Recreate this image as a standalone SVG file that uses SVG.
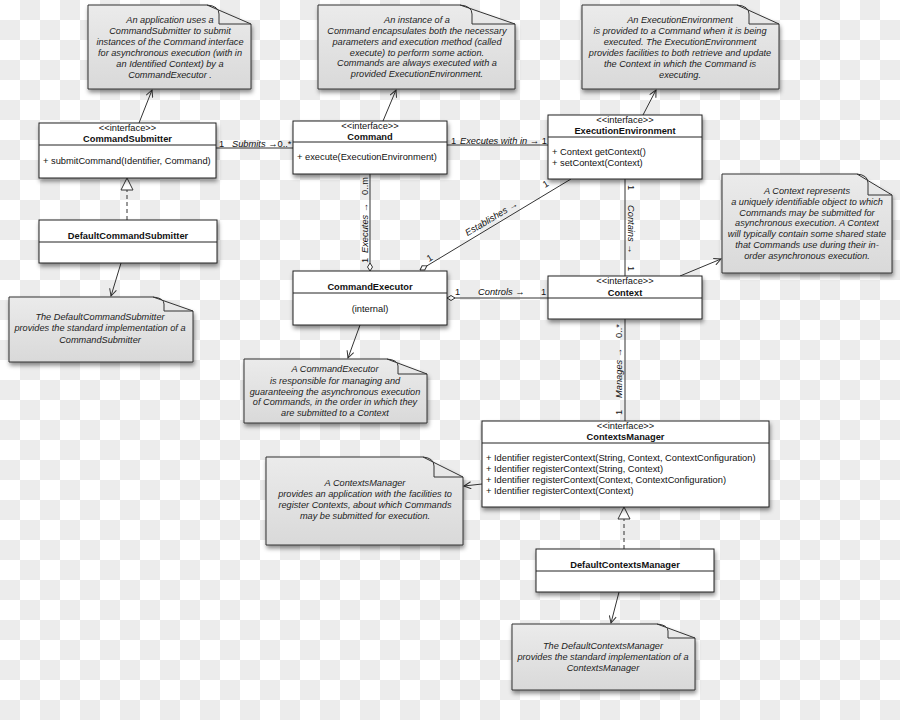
<svg xmlns="http://www.w3.org/2000/svg" width="900" height="720" viewBox="0 0 900 720">
<defs>
<pattern id="chk" x="0" y="0" width="40" height="40" patternUnits="userSpaceOnUse">
<rect width="40" height="40" fill="#ffffff"/>
<rect x="20" y="0" width="20" height="20" fill="#ececec"/>
<rect x="0" y="20" width="20" height="20" fill="#ececec"/>
</pattern>
<linearGradient id="ng" x1="0" y1="0" x2="0" y2="1">
<stop offset="0" stop-color="#ebebeb"/>
<stop offset="1" stop-color="#d9d9d9"/>
</linearGradient>
<filter id="sh" x="-10%" y="-10%" width="125%" height="135%">
<feDropShadow dx="1" dy="3" stdDeviation="2" flood-color="#000" flood-opacity="0.45"/>
</filter>
<marker id="arr" markerWidth="9" markerHeight="8" refX="8" refY="4" orient="auto" markerUnits="userSpaceOnUse">
<path d="M1,0.5 L8,4 L1,7.5" fill="none" stroke="#333" stroke-width="1"/>
</marker>
<marker id="dia" markerWidth="9" markerHeight="7" refX="0.5" refY="3.5" orient="auto" markerUnits="userSpaceOnUse">
<path d="M0.5,3.5 L4.5,1 L8.5,3.5 L4.5,6 Z" fill="#fff" stroke="#333" stroke-width="1"/>
</marker>
<style>
.cls{fill:#fff;stroke:#222;stroke-width:1;filter:url(#sh)}
.div{stroke:#222;stroke-width:1}
.note{fill:url(#ng);stroke:#333;stroke-width:1;filter:url(#sh)}
.fold{fill:none;stroke:#333;stroke-width:1}
.st{font-family:"Liberation Sans",Arial,sans-serif;font-size:9.3px;fill:#111;text-anchor:middle}
.nm{font-family:"Liberation Sans",Arial,sans-serif;font-size:9.3px;font-weight:bold;fill:#111;text-anchor:middle}
.mt{font-family:"Liberation Sans",Arial,sans-serif;font-size:9.3px;fill:#111}
.nt{font-family:"Liberation Sans",Arial,sans-serif;font-size:9.2px;font-style:italic;fill:#222;text-anchor:middle}
.lb{font-family:"Liberation Sans",Arial,sans-serif;font-size:9.3px;fill:#111}
.lbi{font-family:"Liberation Sans",Arial,sans-serif;font-size:9.3px;font-style:italic;fill:#111}
.ln{fill:none;stroke:#333;stroke-width:1}
.ptr{fill:none;stroke:#333;stroke-width:1;marker-end:url(#arr)}
.dash{fill:none;stroke:#333;stroke-width:1;stroke-dasharray:4,3}
.tri{fill:#fff;stroke:#333;stroke-width:1}
</style>
</defs>
<rect x="0" y="0" width="900" height="720" fill="url(#chk)"/>

<g id="connectors">
<line class="ptr" x1="139" y1="123" x2="152" y2="90"/>
<line class="ptr" x1="383" y1="121" x2="396" y2="90"/>
<line class="ptr" x1="643" y1="115" x2="656" y2="90"/>
<line class="ptr" x1="680" y1="276" x2="721" y2="259"/>
<line class="ptr" x1="360" y1="325" x2="348" y2="358"/>
<line class="ptr" x1="482" y1="484" x2="464" y2="486"/>
<line class="ptr" x1="121" y1="263" x2="111" y2="296"/>
<line class="ptr" x1="619" y1="592" x2="611" y2="623"/>

<line class="ln" x1="216" y1="148" x2="293" y2="148"/>
<text class="lb" x="219" y="147">1</text>
<text class="lbi" x="232" y="147">Submits <tspan font-style="normal">→0..*</tspan></text>

<line class="ln" x1="447" y1="145" x2="548" y2="145"/>
<text class="lb" x="451" y="144">1</text>
<text class="lbi" x="460" y="144">Executes with in <tspan font-style="normal">→ 1</tspan></text>

<line class="ln" x1="370" y1="271" x2="370" y2="174" marker-start="url(#dia)"/>
<text class="lb" transform="translate(368,263) rotate(-90)">1</text>
<text class="lbi" transform="translate(368,253) rotate(-90)">Executes <tspan font-style="normal">→</tspan></text>
<text class="lb" transform="translate(368,195) rotate(-90)">0..m</text>

<line class="ln" x1="420" y1="270" x2="571" y2="179" marker-start="url(#dia)"/>
<text class="lb" transform="translate(429,262) rotate(-31)">1</text>
<text class="lbi" text-anchor="middle" transform="translate(493,221) rotate(-31)">Establishes <tspan font-style="normal">→</tspan></text>
<text class="lb" transform="translate(545,188) rotate(-31)">1</text>

<line class="ln" x1="447" y1="298" x2="548" y2="298" marker-start="url(#dia)"/>
<text class="lb" x="455" y="295">1</text>
<text class="lbi" x="478" y="295">Controls <tspan font-style="normal">→</tspan></text>
<text class="lb" x="541" y="295">1</text>

<line class="ln" x1="625" y1="179" x2="625" y2="276"/>
<text class="lb" transform="translate(628,185) rotate(90)">1</text>
<text class="lbi" transform="translate(628,205) rotate(90)">Contains <tspan font-style="normal">→</tspan></text>
<text class="lb" transform="translate(628,266) rotate(90)">1</text>

<line class="ln" x1="625" y1="319" x2="625" y2="421"/>
<text class="lb" transform="translate(622,415) rotate(-90)">1</text>
<text class="lbi" transform="translate(622,398) rotate(-90)">Manages <tspan font-style="normal">→</tspan></text>
<text class="lb" transform="translate(622,338) rotate(-90)">0..*</text>

<line class="dash" x1="127" y1="220" x2="127" y2="190"/>
<polygon class="tri" points="127,178 121,190 133,190"/>
<line class="dash" x1="624" y1="549" x2="624" y2="519"/>
<polygon class="tri" points="624,507 618,519 630,519"/>
</g>

<g id="note-commandsubmitter">
<path class="note" d="M88,5 H207 L251,24 V89 H88 Z"/>
<path class="fold" d="M207,5 Q219,6 219,14 V24 H251"/>
<text class="nt" x="170" y="23">An application uses a</text>
<text class="nt" x="170" y="34">CommandSubmitter to submit</text>
<text class="nt" x="170" y="45">instances of the Command interface</text>
<text class="nt" x="170" y="56">for asynchronous execution (with in</text>
<text class="nt" x="170" y="67">an Identified Context) by a</text>
<text class="nt" x="170" y="78">CommandExecutor .</text>
</g>

<g id="note-command">
<path class="note" d="M318,5 H460 L515,24 V89 H318 Z"/>
<path class="fold" d="M460,5 Q472,6 472,14 V24 H515"/>
<text class="nt" x="417" y="23">An instance of a</text>
<text class="nt" x="417" y="34">Command encapsulates both the necessary</text>
<text class="nt" x="417" y="45">parameters and execution method (called</text>
<text class="nt" x="417" y="56">execute) to perform some action.</text>
<text class="nt" x="417" y="66">Commands are always executed with a</text>
<text class="nt" x="417" y="77">provided ExecutionEnvironment.</text>
</g>

<g id="note-executionenvironment">
<path class="note" d="M582,5 H737 L779,24 V89 H582 Z"/>
<path class="fold" d="M737,5 Q749,6 749,14 V24 H779"/>
<text class="nt" x="680" y="23">An ExecutionEnvironment</text>
<text class="nt" x="680" y="34">is provided to a Command when it is being</text>
<text class="nt" x="680" y="45">executed.  The ExecutionEnvironment</text>
<text class="nt" x="680" y="56">provides facilities to both retrieve and update</text>
<text class="nt" x="680" y="67">the Context in which the Command is</text>
<text class="nt" x="680" y="78">executing.</text>
</g>

<g id="CommandSubmitter">
<rect class="cls" x="39" y="123" width="177" height="55"/>
<line class="div" x1="39" y1="145" x2="216" y2="145"/>
<text class="st" x="127.5" y="131">&lt;&lt;interface&gt;&gt;</text>
<text class="nm" x="127.5" y="142">CommandSubmitter</text>
<text class="mt" x="43" y="164">+ submitCommand(Identifier, Command)</text>
</g>

<g id="Command">
<rect class="cls" x="293" y="121" width="154" height="53"/>
<line class="div" x1="293" y1="142" x2="447" y2="142"/>
<text class="st" x="370" y="128.5">&lt;&lt;interface&gt;&gt;</text>
<text class="nm" x="370" y="139.5">Command</text>
<text class="mt" x="297" y="160">+ execute(ExecutionEnvironment)</text>
</g>

<g id="ExecutionEnvironment">
<rect class="cls" x="548" y="115" width="154" height="64"/>
<line class="div" x1="548" y1="137" x2="702" y2="137"/>
<text class="st" x="625" y="122.5">&lt;&lt;interface&gt;&gt;</text>
<text class="nm" x="625" y="134">ExecutionEnvironment</text>
<text class="mt" x="552" y="155">+ Context getContext()</text>
<text class="mt" x="552" y="166">+ setContext(Context)</text>
</g>

<g id="DefaultCommandSubmitter">
<rect class="cls" x="39" y="220" width="178" height="43"/>
<line class="div" x1="39" y1="242" x2="217" y2="242"/>
<text class="nm" x="128" y="239">DefaultCommandSubmitter</text>
</g>

<g id="note-defaultcommandsubmitter">
<path class="note" d="M9,297 H153 L193,311 V362 H9 Z"/>
<path class="fold" d="M153,297 Q164,298 164,304 V311 H193"/>
<text class="nt" x="100" y="320">The DefaultCommandSubmitter</text>
<text class="nt" x="100" y="331">provides the standard implementation of a</text>
<text class="nt" x="100" y="343">CommandSubmitter</text>
</g>

<g id="CommandExecutor">
<rect class="cls" x="293" y="271" width="154" height="54"/>
<line class="div" x1="293" y1="293" x2="447" y2="293"/>
<text class="nm" x="370" y="290">CommandExecutor</text>
<text class="st" x="370" y="312">(internal)</text>
</g>

<g id="note-commandexecutor">
<path class="note" d="M244,359 H387 L427,374 V423 H244 Z"/>
<path class="fold" d="M387,359 Q398,360 398,366 V374 H427"/>
<text class="nt" x="335" y="372">A CommandExecutor</text>
<text class="nt" x="335" y="384">is responsible for managing and</text>
<text class="nt" x="335" y="395">guaranteeing the asynchronous execution</text>
<text class="nt" x="335" y="405">of Commands, in the order in which they</text>
<text class="nt" x="335" y="416">are submitted to a Context</text>
</g>

<g id="Context">
<rect class="cls" x="548" y="276" width="154" height="43"/>
<line class="div" x1="548" y1="298" x2="702" y2="298"/>
<text class="st" x="625" y="284">&lt;&lt;interface&gt;&gt;</text>
<text class="nm" x="625" y="296">Context</text>
</g>

<g id="note-context">
<path class="note" d="M722,174 H857 L892,195 V273 H722 Z"/>
<path class="fold" d="M857,174 Q868,175 868,183 V195 H892"/>
<text class="nt" x="807" y="194">A Context represents</text>
<text class="nt" x="807" y="205">a uniquely identifiable object to which</text>
<text class="nt" x="807" y="216">Commands may be submitted for</text>
<text class="nt" x="807" y="226">asynchronous execution.  A Context</text>
<text class="nt" x="807" y="237">will typically contain some shared state</text>
<text class="nt" x="807" y="248">that Commands use during their in-</text>
<text class="nt" x="807" y="259">order asynchronous execution.</text>
</g>

<g id="ContextsManager">
<rect class="cls" x="482" y="421" width="287" height="86"/>
<line class="div" x1="482" y1="443" x2="769" y2="443"/>
<text class="st" x="625.5" y="429">&lt;&lt;interface&gt;&gt;</text>
<text class="nm" x="625.5" y="440">ContextsManager</text>
<text class="mt" x="486" y="461">+ Identifier registerContext(String, Context, ContextConfiguration)</text>
<text class="mt" x="486" y="472">+ Identifier registerContext(String, Context)</text>
<text class="mt" x="486" y="483">+ Identifier registerContext(Context, ContextConfiguration)</text>
<text class="mt" x="486" y="494">+ Identifier registerContext(Context)</text>
</g>

<g id="note-contextsmanager">
<path class="note" d="M266,457 H423 L463,477 V545 H266 Z"/>
<path class="fold" d="M423,457 Q434,458 434,466 V477 H463"/>
<text class="nt" x="365" y="486">A ContextsManager</text>
<text class="nt" x="365" y="497">provides an application with the facilities to</text>
<text class="nt" x="365" y="508">register Contexts, about which Commands</text>
<text class="nt" x="365" y="519">may be submitted for execution.</text>
</g>

<g id="DefaultContextsManager">
<rect class="cls" x="536" y="549" width="178" height="43"/>
<line class="div" x1="536" y1="571" x2="714" y2="571"/>
<text class="nm" x="625" y="568">DefaultContextsManager</text>
</g>

<g id="note-defaultcontextsmanager">
<path class="note" d="M512,624 H657 L695,638 V690 H512 Z"/>
<path class="fold" d="M657,624 Q668,625 668,631 V638 H695"/>
<text class="nt" x="603" y="649">The DefaultContextsManager</text>
<text class="nt" x="603" y="660">provides the standard implementation of a</text>
<text class="nt" x="603" y="671">ContextsManager</text>
</g>
</svg>
